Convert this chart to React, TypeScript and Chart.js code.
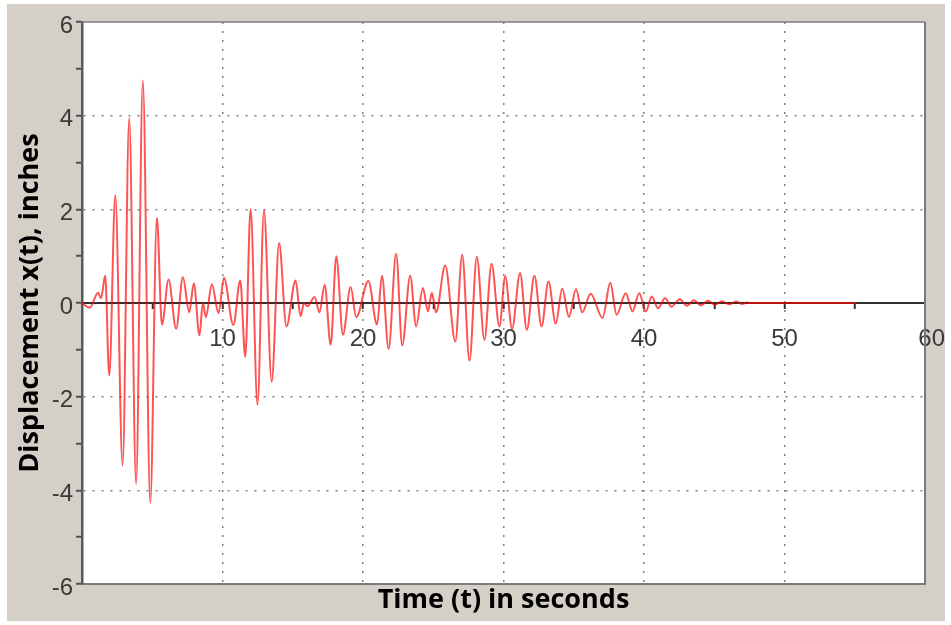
import React, { useEffect, useRef } from 'react';
import { Chart, registerables } from 'chart.js';

Chart.register(...registerables);

// Time (s) of each turning point of the response
const timeSeconds = [
  0, 0.55, 1.15, 1.35, 1.65, 1.94, 2.37, 2.89, 3.36, 3.85,
  4.33, 4.86, 5.33, 5.69, 6.16, 6.7, 7.18, 7.63, 7.96, 8.36,
  8.6, 8.82, 9.24, 9.72, 10.1, 10.77, 11.26, 11.62, 12.0, 12.49,
  12.95, 13.5, 14.03, 14.55, 15.2, 15.56, 15.8, 16.05, 16.55, 16.9,
  17.27, 17.7, 18.1, 18.57, 19.12, 19.52, 20.38, 21.0, 21.35, 21.82,
  22.36, 22.79, 23.36, 23.78, 24.26, 24.62, 24.9, 25.2, 25.85, 26.57,
  27.06, 27.58, 28.1, 28.64, 29.15, 29.71, 30.12, 30.61, 31.18, 31.66,
  32.2, 32.71, 33.2, 33.72, 34.18, 34.66, 35.16, 35.6, 36.2, 37.05,
  37.6, 38.05, 38.7, 39.18, 39.66, 40.13, 40.55, 41.0, 41.5, 41.95,
  42.55, 43.05, 43.55, 44.05, 44.55, 45.05, 45.55, 46.05, 46.55, 47.0,
  47.3, 47.5, 55.1,
];

// Displacement x(t) in inches at those times
const displacementInches = [
  0, -0.1, 0.22, 0.1, 0.58, -1.55, 2.3, -3.47, 3.95, -3.86,
  4.75, -4.27, 1.82, -0.46, 0.5, -0.55, 0.55, -0.2, 0.42, -0.69,
  0.0, -0.3, 0.4, -0.22, 0.54, -0.47, 0.48, -1.15, 2.0, -2.17,
  1.98, -1.68, 1.28, -0.5, 0.48, -0.28, 0.0, -0.07, 0.13, -0.2,
  0.39, -0.89, 1.0, -0.68, 0.34, -0.3, 0.47, -0.46, 0.58, -0.98,
  1.05, -0.91, 0.58, -0.5, 0.32, -0.18, 0.22, -0.2, 0.8, -0.82,
  1.03, -1.23, 0.99, -0.79, 0.84, -0.5, 0.57, -0.55, 0.64, -0.57,
  0.58, -0.5, 0.46, -0.44, 0.31, -0.3, 0.3, -0.2, 0.2, -0.32,
  0.43, -0.25, 0.21, -0.18, 0.21, -0.18, 0.14, -0.11, 0.1, -0.08,
  0.08, -0.06, 0.06, -0.05, 0.05, -0.04, 0.04, -0.03, 0.03, -0.02,
  0.01, 0, 0,
];

const xLabelValues = [10, 20, 30, 40, 50, 60];
const yLabelValues = [-6, -4, -2, 0, 2, 4, 6];
const xTitle = 'Time (t) in seconds';
const yTitle = 'Displacement x(t), inches';

const TICK_FONT = { family: 'Liberation Sans', size: 24 };
const TITLE_FONT = { family: 'Open Sans', size: 27, weight: 'bold' as const };
const CLEAR = 'rgba(0,0,0,0)';

const plotFrame = {
  id: 'plotFrame',
  beforeDraw(chart: any) {
    const { ctx, chartArea: a } = chart;
    ctx.save();
    ctx.fillStyle = '#ffffff';
    ctx.fillRect(a.left, a.top, a.right - a.left, a.bottom - a.top);
    ctx.restore();
  },
  afterDraw(chart: any) {
    const { ctx, chartArea: a } = chart;
    ctx.save();
    ctx.strokeStyle = '#7c7c7c';
    ctx.lineWidth = 1.5;
    ctx.beginPath();
    ctx.moveTo(a.left, a.top);
    ctx.lineTo(a.right, a.top);
    ctx.stroke();
    ctx.lineWidth = 2;
    ctx.strokeStyle = '#7a7a7a';
    ctx.beginPath();
    ctx.moveTo(a.right, a.top);
    ctx.lineTo(a.right, a.bottom);
    ctx.stroke();
    ctx.restore();
  },
};

export default function App() {
  const ref = useRef<HTMLCanvasElement>(null);

  useEffect(() => {
    const points = timeSeconds.map((t, i) => ({ x: t, y: displacementInches[i] }));
    const chart = new Chart(ref.current as HTMLCanvasElement, {
      type: 'line',
      data: {
        datasets: [
          {
            data: points,
            xAxisID: 'x',
            yAxisID: 'y',
            borderColor: 'rgba(255,0,0,0.68)',
            borderWidth: 2,
            pointRadius: 0,
            fill: false,
            cubicInterpolationMode: 'monotone',
          },
        ],
      },
      options: {
        animation: false,
        responsive: false,
        devicePixelRatio: 1,
        layout: { padding: { left: 0, top: 22, right: 26, bottom: 0 } },
        plugins: { legend: { display: false }, tooltip: { enabled: false } },
        scales: {
          x: {
            type: 'linear',
            min: 0,
            max: 60,
            position: { y: 0 } as any,
            ticks: {
              stepSize: 5,
              autoSkip: false,
              maxRotation: 0,
              padding: 17,
              font: TICK_FONT,
              color: '#3a3a3a',
              callback: (v: any) =>
                xLabelValues.includes(v) ? (v === 60 ? '  ' + v : String(v)) : '',
            },
            grid: {
              color: (c: any) => {
                const v = c.tick ? c.tick.value : 0;
                return v % 10 === 0 && v > 0 && v < 60 ? '#808080' : CLEAR;
              },
              lineWidth: 1.5,
              tickColor: (c: any) => {
                const v = c.tick ? c.tick.value : 0;
                return v > 0 && v < 60 ? '#303030' : CLEAR;
              },
              tickLength: 5,
              tickWidth: 2,
              tickBorderDash: [],
            },
            border: { color: '#303030', width: 2, dash: [2, 7] },
            afterFit: (s: any) => {
              s.height = 0;
              s.paddingLeft = 0;
              s.paddingRight = 0;
            },
          },
          x2: {
            type: 'linear',
            min: 0,
            max: 60,
            position: 'bottom',
            ticks: { display: false },
            grid: { display: false, drawTicks: false },
            border: { color: '#7a7a7a', width: 2 },
            title: {
              display: true,
              text: xTitle,
              font: TITLE_FONT,
              color: '#000000',
              padding: { top: 0, bottom: 8 },
            },
            afterFit: (s: any) => {
              s.height = 41;
              s.paddingLeft = 0;
              s.paddingRight = 0;
            },
          },
          y: {
            type: 'linear',
            min: -6,
            max: 6,
            position: 'left',
            ticks: {
              stepSize: 1,
              autoSkip: false,
              padding: 3,
              labelOffset: 4,
              font: TICK_FONT,
              color: '#3a3a3a',
              callback: (v: any) => (yLabelValues.includes(v) ? String(v) : ''),
            },
            grid: {
              color: (c: any) => {
                const v = c.tick ? c.tick.value : 0;
                return v % 2 === 0 && v !== 0 && Math.abs(v) < 6 ? '#808080' : CLEAR;
              },
              lineWidth: 1.5,
              tickColor: '#505050',
              tickLength: 6,
              tickWidth: 2,
              tickBorderDash: [],
            },
            border: { color: '#5a5a5a', width: 2.5, dash: [2, 7] },
            title: {
              display: true,
              text: yTitle,
              font: TITLE_FONT,
              color: '#000000',
              padding: { top: 14, bottom: 0 },
            },
            afterFit: (s: any) => {
              s.width = 82;
              s.paddingTop = 0;
              s.paddingBottom = 0;
            },
          },
        },
      },
      plugins: [plotFrame],
    } as any);
    return () => chart.destroy();
  }, []);

  return (
    <div style={{ position: 'absolute', left: 0, top: 0, width: 951, height: 625, background: '#ffffff' }}>
      <div
        style={{ position: 'absolute', left: 7, top: 4, width: 938, height: 617, background: '#d4d0c8' }}
      />
      <canvas
        ref={ref}
        width={951}
        height={625}
        style={{ position: 'absolute', left: 0, top: 0, width: 951, height: 625 }}
      />
    </div>
  );
}
